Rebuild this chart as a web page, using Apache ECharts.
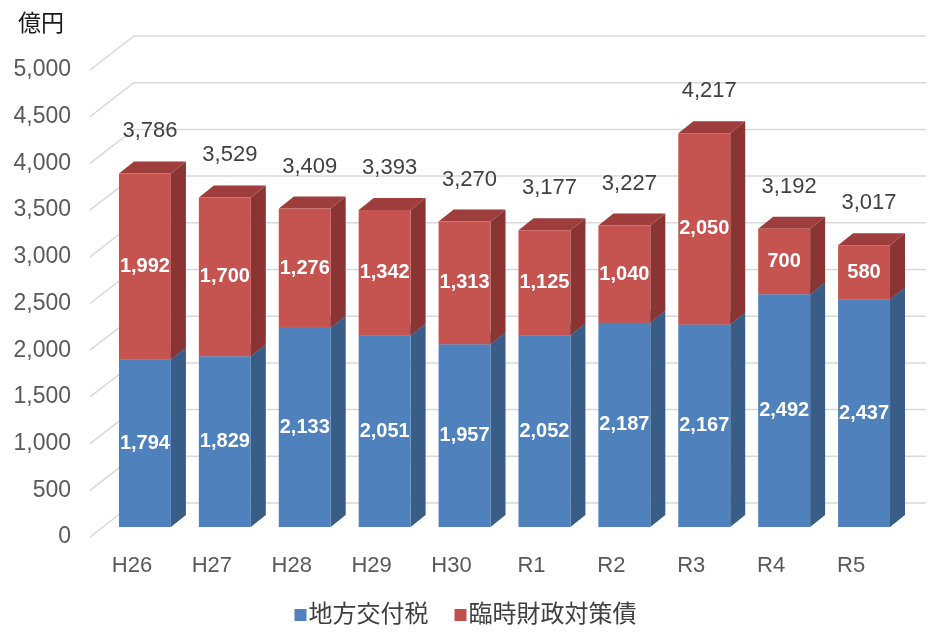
<!DOCTYPE html>
<html>
<head>
<meta charset="utf-8">
<script src="https://cdn.jsdelivr.net/npm/echarts@6/dist/echarts.min.js"></script>
<style>
  html, body { margin: 0; padding: 0; background: #fff; }
  #chart { width: 931px; height: 632px; }
</style>
</head>
<body>
<div id="chart"></div>
<script>
const categories = ['H26', 'H27', 'H28', 'H29', 'H30', 'R1', 'R2', 'R3', 'R4', 'R5']
const koufuzei = [1794, 1829, 2133, 2051, 1957, 2052, 2187, 2167, 2492, 2437]
const rinzai = [1992, 1700, 1276, 1342, 1313, 1125, 1040, 2050, 700, 580]
const yTicks = [0, 500, 1000, 1500, 2000, 2500, 3000, 3500, 4000, 4500, 5000]

const FONT = '"Liberation Sans", "Noto Sans CJK JP", sans-serif'
const fmt = v => v.toLocaleString('en-US')

// 奥行き (グリッド壁 / 棒の位置 / 棒の厚み)
const WALL_DX = 44, WALL_DY = -34
const BAR_OX = 13, BAR_OY = -10
const BAR_DX = 15, BAR_DY = -12

const chart = echarts.init(document.getElementById('chart'))

function gridItem(params, api) {
  const y = api.coord([0, api.value(1)])[1]
  const x0 = params.coordSys.x - 2
  return {
    type: 'polyline',
    shape: { points: [[x0, y], [x0 + WALL_DX, y + WALL_DY], [926, y + WALL_DY]] },
    style: { stroke: '#d9d9d9', lineWidth: 1.5, fill: null },
    silent: true
  }
}

function barItem(front, side, top, withTotal) {
  return function (params, api) {
    const i = api.value(0)
    const v0 = api.value(1)
    const v1 = api.value(2)
    const p0 = api.coord([i, v0])
    const p1 = api.coord([i, v1])
    const bw = api.size([1, 0])[0] * 0.65
    const xl = p0[0] - bw / 2 + BAR_OX
    const xr = xl + bw
    const yb = p0[1] + BAR_OY
    const yt = p1[1] + BAR_OY
    const children = [
      {
        type: 'polygon',
        shape: { points: [[xr, yb], [xr + BAR_DX, yb + BAR_DY], [xr + BAR_DX, yt + BAR_DY], [xr, yt]] },
        style: { fill: side }
      },
      {
        type: 'polygon',
        shape: { points: [[xl, yt], [xl + BAR_DX, yt + BAR_DY], [xr + BAR_DX, yt + BAR_DY], [xr, yt]] },
        style: { fill: top }
      },
      {
        type: 'rect',
        shape: { x: xl, y: yt, width: bw, height: yb - yt },
        style: { fill: front }
      },
      {
        type: 'text',
        x: xl + bw / 2,
        y: (yt + yb) / 2,
        style: {
          text: fmt(v1 - v0),
          fill: '#fff',
          font: 'bold 20px ' + FONT,
          align: 'center',
          verticalAlign: 'middle'
        }
      }
    ]
    if (withTotal) {
      children.push({
        type: 'text',
        x: xl + bw / 2 + 5,
        y: yt - 42,
        style: {
          text: fmt(v1),
          fill: '#404040',
          font: '22px ' + FONT,
          align: 'center',
          verticalAlign: 'middle'
        }
      })
    }
    return { type: 'group', children }
  }
}

const blueData = categories.map((c, i) => [i, 0, koufuzei[i]])
const redData = categories.map((c, i) => [i, koufuzei[i], koufuzei[i] + rinzai[i]])

const option = {
  animation: false,
  title: {
    text: '億円',
    left: 13,
    top: 8,
    textStyle: { fontSize: 23, fontWeight: 'normal', color: '#1a1a1a', fontFamily: FONT }
  },
  grid: { left: 92, right: 40, top: 70, bottom: 95 },
  xAxis: {
    type: 'category',
    data: categories,
    axisLine: { show: false },
    axisTick: { show: false },
    axisLabel: { color: '#595959', fontSize: 22, margin: 18, fontFamily: FONT }
  },
  yAxis: {
    type: 'value',
    min: yTicks[0],
    max: yTicks[yTicks.length - 1],
    interval: 500,
    splitLine: { show: false },
    axisLine: { show: false },
    axisTick: { show: false },
    axisLabel: { color: '#595959', fontSize: 23, margin: 21, fontFamily: FONT, formatter: v => fmt(v) }
  },
  legend: {
    bottom: 0,
    left: 'center',
    icon: 'rect',
    itemWidth: 12,
    itemHeight: 12,
    itemGap: 26,
    textStyle: { color: '#404040', fontSize: 24, fontFamily: FONT, padding: [0, 0, 0, -3] },
    data: ['地方交付税', '臨時財政対策債']
  },
  series: [
    {
      type: 'custom',
      name: 'grid',
      z: 1,
      silent: true,
      renderItem: gridItem,
      encode: { x: 0, y: 1 },
      data: yTicks.map(v => [0, v])
    },
    {
      type: 'custom',
      name: '地方交付税',
      z: 2,
      itemStyle: { color: '#4f81bd' },
      renderItem: barItem('#4f81bd', '#3a5d88', '#4674a8', false),
      encode: { x: 0, y: [1, 2] },
      data: blueData
    },
    {
      type: 'custom',
      name: '臨時財政対策債',
      z: 3,
      itemStyle: { color: '#c0504d' },
      renderItem: barItem('#c55451', '#8a3533', '#9e3e3c', true),
      encode: { x: 0, y: [1, 2] },
      data: redData
    }
  ]
}

chart.setOption(option)
window.addEventListener('resize', () => chart.resize())
</script>
</body>
</html>
